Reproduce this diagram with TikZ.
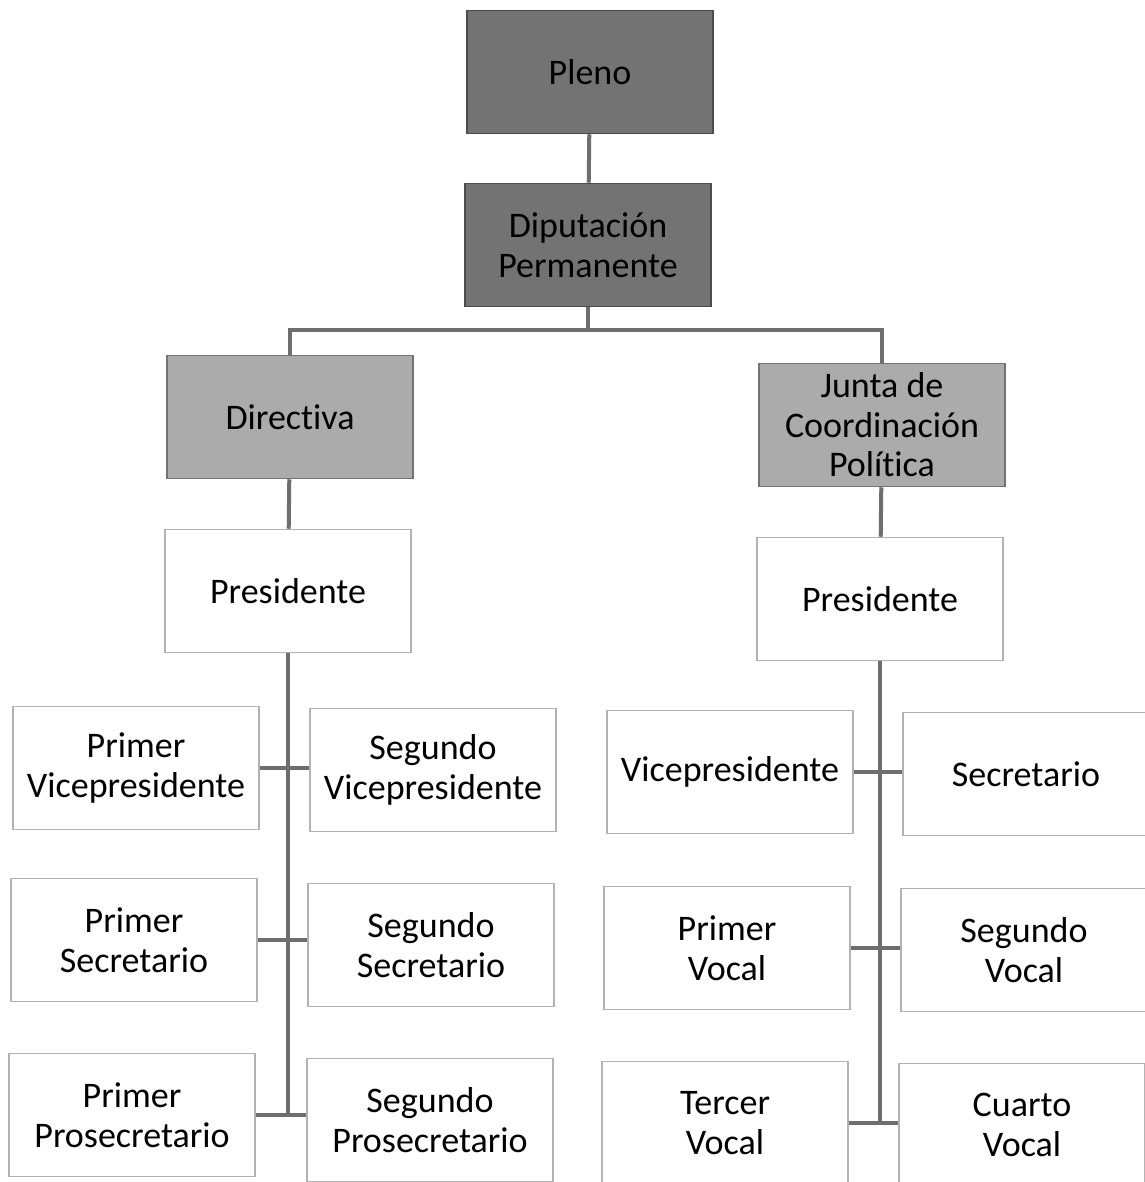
\documentclass[tikz,border=0pt]{standalone}
\usepackage{fontspec}
\setmainfont[Ligatures=NoCommon]{Carlito}
\usepackage{xcolor}
\usepackage{tikz}
\definecolor{osc}{HTML}{737373}
\definecolor{med}{HTML}{ABABAB}
\definecolor{lin}{HTML}{6E6E6E}

\begin{document}
\begin{tikzpicture}[x=1pt, y=-1pt,
	main/.style = {draw=gray!60, line width=1.5pt, fill=white, minimum width=246pt, minimum height=123pt, inner sep=0pt, align=center, font=\fontsize{36}{39.5}\selectfont},
	dark/.style = {main, fill=osc, draw=black!70},
	mid/.style = {main, fill=med, draw=black!55},
	con/.style = {draw=lin, line width=4pt}]
	\useasboundingbox (0,0) rectangle (1144,1182);
	\node[dark] (pleno) at (590,72) {Pleno};
	\node[dark] (dip) at (588,245) {Diputación\\Permanente};
	\node[mid] (dir) at (290,417) {Directiva};
	\node[mid] (jun) at (882,425) {Junta de\\Coordinación\\Política};
	\node[main] (presL) at (288,591) {Presidente};
	\node[main] (presR) at (880,599) {Presidente};
	% directiva
	\node[main] (pv) at (136,768) {Primer\\Vicepresidente};
	\node[main] (sv) at (433,770) {Segundo\\Vicepresidente};
	\node[main] (ps) at (134,940) {Primer\\Secretario};
	\node[main] (ss) at (431,945) {Segundo\\Secretario};
	\node[main] (pp) at (132,1115) {Primer\\Prosecretario};
	\node[main] (sp) at (430,1120) {Segundo\\Prosecretario};
	% junta
	\node[main] (vic) at (730,772) {Vicepresidente};
	\node[main] (sec) at (1026,774) {Secretario};
	\node[main] (v1) at (727,948) {Primer\\Vocal};
	\node[main] (v2) at (1024,950) {Segundo\\Vocal};
	\node[main] (v3) at (725,1123) {Tercer\\Vocal};
	\node[main] (v4) at (1022,1125) {Cuarto\\Vocal};
	\coordinate (bar) at (0,330);
	\coordinate (endL) at (0,1117);
	\coordinate (endR) at (0,1123);
	\draw[con] (pleno) -- (dip);
	\draw[con] (dip.south) -- (dip.south |- bar) -| (dir.north);
	\draw[con] (dip.south |- bar) -| (jun.north);
	\draw[con] (dir) -- (presL);
	\draw[con] (jun) -- (presR);
	\draw[con] (presL.south) -- (presL.south |- endL);
	\draw[con] (presR.south) -- (presR.south |- endR);
	\draw[con] (pv.east) -- (sv.west |- pv.east);
	\draw[con] (ps.east) -- (ss.west |- ps.east);
	\draw[con] (pp.east) -- (sp.west |- pp.east);
	\draw[con] (vic.east) -- (sec.west |- vic.east);
	\draw[con] (v1.east) -- (v2.west |- v1.east);
	\draw[con] (v3.east) -- (v4.west |- v3.east);
\end{tikzpicture}
\end{document}
